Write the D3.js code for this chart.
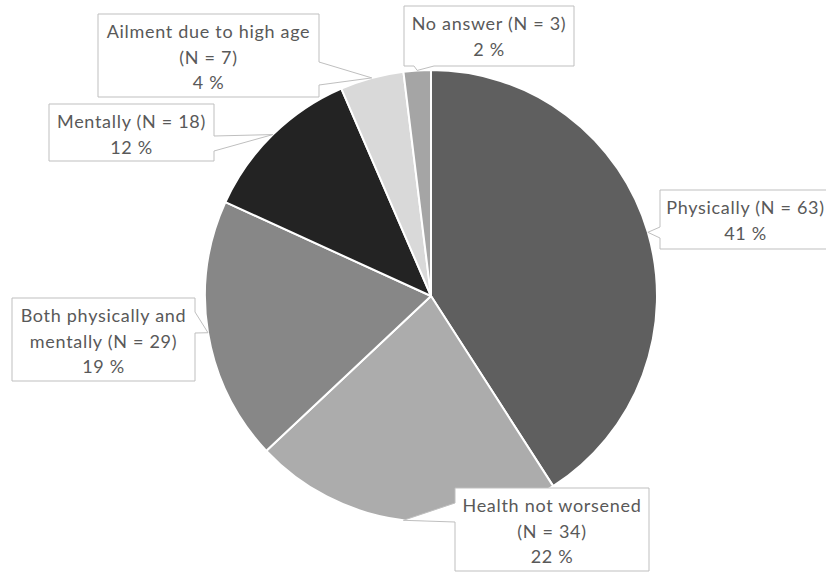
<!DOCTYPE html>
<html>
<head>
<meta charset="utf-8">
<script src="https://cdn.jsdelivr.net/npm/d3@7"></script>
<style>
  body { margin: 0; background: #fff; }
</style>
</head>
<body>
<script>
// data
const categories = ["Physically", "Health not worsened", "Both physically and mentally", "Mentally", "Ailment due to high age", "No answer"];
const counts = [63, 34, 29, 18, 7, 3];
const percents = [41, 22, 19, 12, 4, 2];
const colors = ["#5f5f5f", "#acacac", "#878787", "#232323", "#d9d9d9", "#a5a5a5"];

// callout boxes: where each label sits and which side the pointer leaves from
const boxes = [
	{x: 660, y: 190, w: 171, h: 59, side: "left", b0: 37, b1: 48, wrap: null},
	{x: 455, y: 488, w: 194, h: 83, side: "left", b0: 15, b1: 34, wrap: "("},
	{x: 12, y: 298, w: 183, h: 83, side: "right", b0: 14, b1: 35, wrap: "mentally"},
	{x: 49, y: 104, w: 165, h: 57, side: "right", b0: 32, b1: 47, wrap: null},
	{x: 98, y: 14, w: 221, h: 83, side: "right", b0: 48, b1: 71, wrap: "("},
	{x: 404, y: 6, w: 170, h: 60, side: "bottom", b0: 10, b1: 30, wrap: null}
];

const width = 826, height = 572;
const cx = 431, cy = 296, radius = 226;

const svg = d3.select("body").append("svg")
	.attr("width", width)
	.attr("height", height);

const pie = d3.pie().sort(null).value(d => d.n);
const arcs = pie(categories.map((c, i) => ({name: c, n: counts[i], pct: percents[i], i: i})));

const arc = d3.arc().innerRadius(0).outerRadius(radius);

const g = svg.append("g").attr("transform", `translate(${cx},${cy})`);

g.selectAll("path.slice")
	.data(arcs)
	.enter().append("path")
	.attr("class", "slice")
	.attr("d", arc)
	.attr("fill", d => colors[d.data.i])
	.attr("stroke", "#fff")
	.attr("stroke-width", 2)
	.attr("stroke-linejoin", "round");

// builds the callout outline with the wedge pointing at the slice
function calloutPath(b, tx, ty) {
	const x0 = b.x, y0 = b.y, x1 = b.x + b.w, y1 = b.y + b.h;
	let pts;
	if (b.side === "right") {
		pts = [[x0, y0], [x1, y0], [x1, y0 + b.b0], [tx, ty], [x1, y0 + b.b1], [x1, y1], [x0, y1]];
	} else if (b.side === "left") {
		pts = [[x0, y0], [x1, y0], [x1, y1], [x0, y1], [x0, y0 + b.b1], [tx, ty], [x0, y0 + b.b0]];
	} else if (b.side === "bottom") {
		pts = [[x0, y0], [x1, y0], [x1, y1], [x0 + b.b1, y1], [tx, ty], [x0 + b.b0, y1], [x0, y1]];
	} else {
		pts = [[x0, y0], [x0 + b.b0, y0], [tx, ty], [x0 + b.b1, y0], [x1, y0], [x1, y1], [x0, y1]];
	}
	return d3.line()(pts) + "Z";
}

const labels = svg.selectAll("g.label")
	.data(arcs)
	.enter().append("g")
	.attr("class", "label");

labels.append("path")
	.attr("d", d => {
		const b = boxes[d.data.i];
		const mid = (d.startAngle + d.endAngle) / 2;
		const tx = cx + radius * Math.sin(mid);
		const ty = cy - radius * Math.cos(mid);
		return calloutPath(b, tx, ty);
	})
	.attr("fill", "#fff")
	.attr("stroke", "#bfbfbf")
	.attr("stroke-width", 1);

labels.each(function(d) {
	const b = boxes[d.data.i];
	const full = `${d.data.name} (N = ${d.data.n})`;
	let lines;
	if (b.wrap) {
		const k = full.indexOf(b.wrap);
		lines = [full.slice(0, k).trim(), full.slice(k).trim()];
	} else {
		lines = [full];
	}
	lines.push(`${d.data.pct} %`);

	const text = d3.select(this).append("text")
		.attr("text-anchor", "middle")
		.style("font-family", "Lato, 'Open Sans', sans-serif")
		.style("font-size", "18px")
		.style("letter-spacing", "0.7px")
		.style("fill", "#595959");

	text.selectAll("tspan")
		.data(lines)
		.enter().append("tspan")
		.attr("x", b.x + b.w / 2)
		.attr("y", (l, j) => b.y + 24 + j * 25.5)
		.text(l => l);
});
</script>
</body>
</html>
